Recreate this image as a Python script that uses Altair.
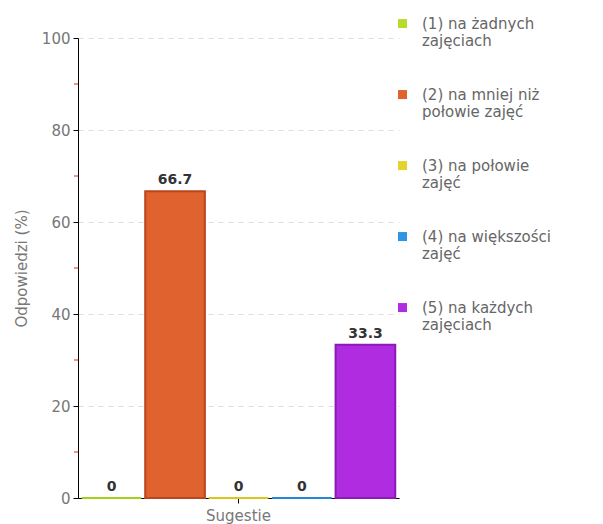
import altair as alt
import pandas as pd

categories = [
    " (1) na żadnych|zajęciach",
    " (2) na mniej niż|połowie zajęć",
    " (3) na połowie|zajęć",
    " (4) na większości|zajęć",
    " (5) na każdych|zajęciach",
]
values = [0, 66.7, 0, 0, 33.3]
labels = ["0", "66.7", "0", "0", "33.3"]
fills = ["#b4dc28", "#e0622e", "#e2d42a", "#2e96e0", "#b02ce0"]
strokes = ["#a4d01c", "#b8461e", "#d8c81e", "#2688d4", "#8a1cb4"]
group = "Sugestie"
minor_ticks = [10, 30, 50, 70, 90]

df = pd.DataFrame({"group": group, "cat": categories, "value": values, "label": labels})
minor = pd.DataFrame({"v": minor_ticks})

FONT = "DejaVu Sans"

xs = alt.X("group:N", title=None,
           scale=alt.Scale(paddingInner=0, paddingOuter=0.012),
           axis=alt.Axis(labelAngle=0, labelFontSize=15, labelColor="#777",
                         labelFont=FONT, domainColor="#000", tickColor="#000",
                         tickSize=5, labelPadding=5))
xo = alt.XOffset("cat:N", scale=alt.Scale(paddingInner=0.06, paddingOuter=0))
ys = alt.Y("value:Q", title="Odpowiedzi (%)",
           scale=alt.Scale(domain=[0, 100], nice=False),
           axis=alt.Axis(values=[0, 20, 40, 60, 80, 100], labelFontSize=15,
                         labelColor="#777", labelFont=FONT, titleFont=FONT,
                         titleFontSize=15, titleColor="#777", titleFontWeight="normal",
                         titlePadding=12, domainColor="#000", tickColor="#000",
                         tickSize=5, labelPadding=3, grid=True, gridColor="#dddddd",
                         gridDash=[5, 5]))

square_up = "M-1,-2.1H1V-0.1H-1Z"

bars = alt.Chart(df).mark_bar(strokeWidth=2).encode(
    x=xs, xOffset=xo, y=ys,
    fill=alt.Fill("cat:N", scale=alt.Scale(domain=categories, range=fills),
                  legend=alt.Legend(title=None, orient="none", legendX=317, legendY=-17,
                                    labelExpr="split(datum.label, '|')",
                                    labelFont=FONT, labelFontSize=15, labelColor="#666",
                                    labelBaseline="alphabetic",
                                    symbolType=square_up, symbolSize=81,
                                    symbolStrokeWidth=0, rowPadding=38,
                                    labelLimit=300, labelOffset=12)),
    stroke=alt.Stroke("cat:N", scale=alt.Scale(domain=categories, range=strokes), legend=None),
)

text = alt.Chart(df).mark_text(dy=-4, baseline="bottom", font=FONT, fontSize=14,
                               fontWeight="bold", color="#333").encode(
    x=xs, xOffset=xo, y=ys, text="label:N")

minor_rules = alt.Chart(minor).mark_rule(color="#ff1a1a", strokeWidth=1).encode(
    y="v:Q", x=alt.value(-4), x2=alt.value(0))

chart = alt.layer(bars, text, minor_rules).properties(
    width=321, height=460,
    autosize=alt.AutoSizeParams(type="none"),
    padding={"left": 70, "top": 30, "right": 196, "bottom": 26},
).configure_view(stroke=None).configure_axis(labelFont=FONT)

chart.save("out.html", embed_options={"renderer": "svg", "actions": False})
